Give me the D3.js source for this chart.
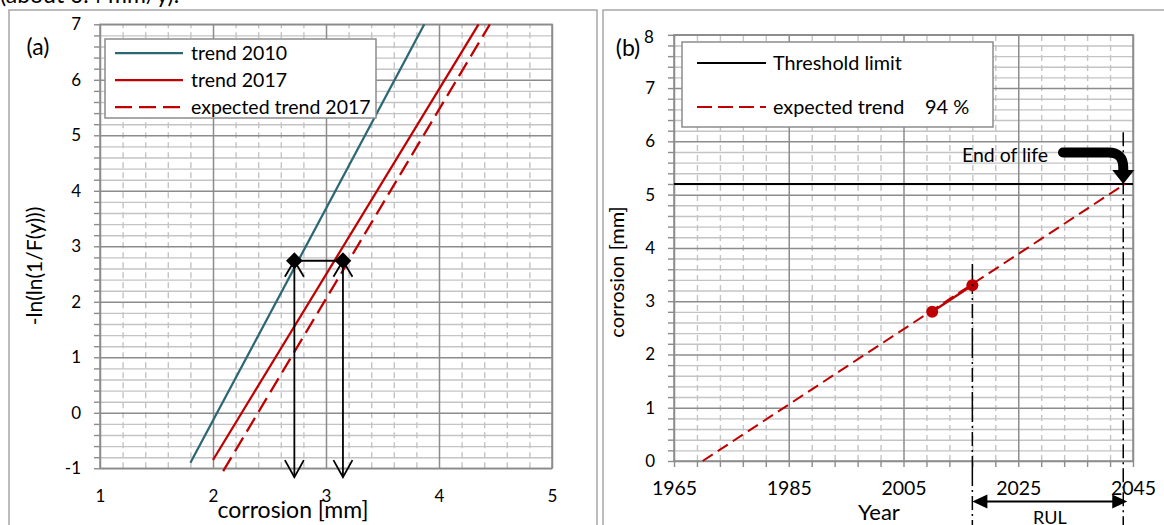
<!DOCTYPE html>
<html><head><meta charset="utf-8">
<script src="https://cdn.jsdelivr.net/npm/d3@7"></script>
<style>
body{margin:0;background:#fff;overflow:hidden;}
svg{display:block;font-family:Lato,'Open Sans',sans-serif;}
</style></head><body>
<svg id="c" width="1164" height="525"></svg>
<script>
// ---------- data: panel (a) ----------
const aXTicks = [1, 2, 3, 4, 5];
const aYTicks = [-1, 0, 1, 2, 3, 4, 5, 6, 7];
const trend2010 = [[1.80, -0.9], [3.87, 7]];
const trend2017 = [[2.0, -0.85], [4.35, 7]];
const expected2017 = [[2.09, -1.05], [4.45, 7]];
const quantileX = [2.72, 3.15];
const quantileY = 2.74;
const arrowFootY = -1.16;
const aLegend = ["trend 2010", "trend 2017", "expected trend 2017"];

// ---------- data: panel (b) ----------
const bXTicks = [1965, 1985, 2005, 2025, 2045];
const bYTicks = [0, 1, 2, 3, 4, 5, 6, 7, 8];
const thresholdLimit = 5.2;
const expectedTrend = [[1970, 0], [2043.6, 5.2]];
const measuredYears = [2010, 2017];
const measuredValues = [2.8, 3.3];
const inspectionYear = 2017;
const endOfLifeYear = 2043.3;
const bLegend = ["Threshold limit", "expected trend"];
const confidenceLabel = "94 %";

const svg = d3.select("#c");
const TEAL = "#2B6775", RED = "#C00000";
const MAJ = "#8c8c8c", MIN = "#c4c4c4";

// panel frames
svg.append("text").attr("x", 0).attr("y", 3).attr("font-size", 23).attr("fill", "#000").text("(about 0.4 mm/y).");
svg.append("rect").attr("x", 9).attr("y", 10).attr("width", 588).attr("height", 540)
  .attr("fill", "none").attr("stroke", "#a6a6a6").attr("stroke-width", 1.5);
svg.append("rect").attr("x", 603).attr("y", 10).attr("width", 570).attr("height", 540)
  .attr("fill", "none").attr("stroke", "#a6a6a6").attr("stroke-width", 1.5);

function grid(g, x, y, xMinor, yMinor, xMajor, yMajor) {
  const [x0, x1] = x.range(), [y0, y1] = y.range();
  const W = x1 - x0, H = y0 - y1;
  g.append("g").attr("transform", `translate(${x0},0)`)
    .call(d3.axisLeft(y).tickValues(yMinor).tickSize(-W).tickFormat(""))
    .call(s => { s.select(".domain").remove(); s.selectAll("line").attr("stroke", MIN).attr("stroke-width", 1.4); });
  g.append("g").attr("transform", `translate(0,${y0})`)
    .call(d3.axisBottom(x).tickValues(xMinor).tickSize(-H).tickFormat(""))
    .call(s => { s.select(".domain").remove(); s.selectAll("line").attr("stroke", MIN).attr("stroke-width", 1.4).attr("stroke-dasharray", "6,4"); });
  g.append("g").attr("transform", `translate(${x0},0)`)
    .call(d3.axisLeft(y).tickValues(yMajor).tickSize(-W).tickFormat(""))
    .call(s => { s.select(".domain").remove(); s.selectAll("line").attr("stroke", MAJ).attr("stroke-width", 1.5); });
  g.append("g").attr("transform", `translate(0,${y0})`)
    .call(d3.axisBottom(x).tickValues(xMajor).tickSize(-H).tickFormat(""))
    .call(s => { s.select(".domain").remove(); s.selectAll("line").attr("stroke", MAJ).attr("stroke-width", 1.5); });
  g.append("rect").attr("x", x0).attr("y", y1).attr("width", W).attr("height", H)
    .attr("fill", "none").attr("stroke", MAJ).attr("stroke-width", 1.5);
  g.append("g").attr("transform", `translate(${x0},0)`)
    .call(d3.axisLeft(y).tickValues(yMinor.concat(yMajor)).tickSize(6).tickFormat(""))
    .call(s => { s.select(".domain").remove(); s.selectAll("line").attr("stroke", MAJ).attr("stroke-width", 1.4); });
}
function labels(g, x, y, xt, yt, fsx, fsy, padX, padY) {
  const [x0] = x.range(), [y0] = y.range();
  g.append("g").attr("transform", `translate(${x0},0)`)
    .call(d3.axisLeft(y).tickValues(yt).tickSize(0).tickPadding(padY).tickFormat(d => String(d)))
    .call(s => { s.select(".domain").remove(); s.selectAll("text").attr("font-size", fsy).attr("fill", "#000").attr("font-family", "Lato"); });
  g.append("g").attr("transform", `translate(0,${y0})`)
    .call(d3.axisBottom(x).tickValues(xt).tickSize(0).tickPadding(padX).tickFormat(d => String(d)))
    .call(s => { s.select(".domain").remove(); s.selectAll("text").attr("font-size", fsx).attr("fill", "#000").attr("font-family", "Lato"); });
}
const r = (a, b, s) => d3.range(a, b + s / 2, s).map(v => +v.toFixed(4));

// ================= panel (a) =================
const xa = d3.scaleLinear([1, 5], [100, 552]);
const ya = d3.scaleLinear([-1, 7], [468.3, 24.3]);
const ga = svg.append("g");
grid(ga, xa, ya, r(1, 5, 0.2).filter(v => v % 1 !== 0), r(-1, 7, 0.2).filter(v => Math.abs(v % 1) > 1e-6), aXTicks, aYTicks);
labels(ga, xa, ya, aXTicks, aYTicks, 17, 17, 22, 19);

const la = d3.line().x(d => xa(d[0])).y(d => ya(d[1]));
ga.append("path").attr("d", la(trend2010)).attr("stroke", TEAL).attr("stroke-width", 2.25).attr("fill", "none");
ga.append("path").attr("d", la(trend2017)).attr("stroke", RED).attr("stroke-width", 2.25).attr("fill", "none");
ga.append("path").attr("d", la(expected2017)).attr("stroke", RED).attr("stroke-width", 2.25).attr("fill", "none").attr("stroke-dasharray", "16,7");

// quantile arrows
ga.append("path").attr("d", la(quantileX.map(v => [v, quantileY]))).attr("stroke", "#000").attr("stroke-width", 1.8).attr("fill", "none");
quantileX.forEach(v => {
  const X = xa(v), Yt = ya(quantileY), Yb = ya(arrowFootY);
  ga.append("line").attr("x1", X).attr("x2", X).attr("y1", Yt).attr("y2", Yb).attr("stroke", "#000").attr("stroke-width", 1.8);
  ga.append("polyline").attr("points", `${X - 9.5},${Yb - 17} ${X},${Yb} ${X + 9.5},${Yb - 17}`).attr("stroke", "#000").attr("stroke-width", 1.8).attr("fill", "none");
  ga.append("polyline").attr("points", `${X - 9.5},${Yt + 16} ${X},${Yt} ${X + 9.5},${Yt + 16}`).attr("stroke", "#000").attr("stroke-width", 1.8).attr("fill", "none");
  ga.append("path").attr("d", d3.symbol(d3.symbolSquare, 140)()).attr("transform", `translate(${X},${Yt}) rotate(45)`).attr("fill", "#000");
});

// legend (a)
ga.append("rect").attr("x", 105).attr("y", 39).attr("width", 271).attr("height", 79).attr("fill", "#fff").attr("stroke", "#8c8c8c").attr("stroke-width", 1.5);
const aStyles = [[TEAL, null], [RED, null], [RED, "17,7"]];
aLegend.forEach((t, i) => {
  const yy = 53 + i * 27;
  ga.append("line").attr("x1", 115).attr("x2", 183).attr("y1", yy).attr("y2", yy).attr("stroke", aStyles[i][0]).attr("stroke-width", 2.25).attr("stroke-dasharray", aStyles[i][1]);
  ga.append("text").attr("x", 191).attr("y", yy + 7).attr("font-size", 19.5).text(t);
});
ga.append("text").attr("x", 38).attr("y", 55).attr("font-size", 23).attr("text-anchor", "middle").text("(a)");
ga.append("text").attr("transform", "translate(42,266) rotate(-90)").attr("font-size", 21).attr("text-anchor", "middle").text("-ln(ln(1/F(y)))");
ga.append("text").attr("x", 293).attr("y", 518).attr("font-size", 23).attr("text-anchor", "middle").text("corrosion [mm]");

// ================= panel (b) =================
const xb = d3.scaleLinear([1965, 2045], [674, 1133]);
const yb = d3.scaleLinear([0, 8], [461, 34.8]);
const gb = svg.append("g");
grid(gb, xb, yb, r(1965, 2045, 4).filter(v => (v - 1965) % 20 !== 0), r(0, 8, 0.2).filter(v => Math.abs(v % 1) > 1e-6), bXTicks, bYTicks);
gb.append("g").attr("transform", `translate(0,${yb(0)})`)
  .call(d3.axisBottom(xb).tickValues(r(1965, 2045, 4)).tickSize(6).tickFormat(""))
  .call(s => { s.select(".domain").remove(); s.selectAll("line").attr("stroke", MAJ).attr("stroke-width", 1.4); });
labels(gb, xb, yb, bXTicks, bYTicks.filter(v => v !== 8), 19.5, 17, 20, 19);
gb.append("text").attr("x", 649).attr("y", 43).attr("font-size", 17).attr("text-anchor", "middle").text("8");

const lb = d3.line().x(d => xb(d[0])).y(d => yb(d[1]));
gb.append("path").attr("d", lb([[1965, thresholdLimit], [2045, thresholdLimit]])).attr("stroke", "#000").attr("stroke-width", 2).attr("fill", "none");
gb.append("line").attr("x1", xb(inspectionYear)).attr("x2", xb(inspectionYear)).attr("y1", yb(3.7)).attr("y2", yb(-1.3))
  .attr("stroke", "#000").attr("stroke-width", 1.5).attr("stroke-dasharray", "30,4,2,4,14,4,2,4");
gb.append("line").attr("x1", xb(endOfLifeYear)).attr("x2", xb(endOfLifeYear)).attr("y1", yb(6.17)).attr("y2", yb(-1.3))
  .attr("stroke", "#000").attr("stroke-width", 1.5).attr("stroke-dasharray", "14,4,2,4");
gb.append("path").attr("d", lb(expectedTrend)).attr("stroke", RED).attr("stroke-width", 2).attr("fill", "none").attr("stroke-dasharray", "12,6");
const meas = measuredYears.map((y, i) => [y, measuredValues[i]]);
gb.append("path").attr("d", lb(meas)).attr("stroke", RED).attr("stroke-width", 2.5).attr("fill", "none");
gb.selectAll("circle.m").data(meas).join("circle").attr("cx", d => xb(d[0])).attr("cy", d => yb(d[1])).attr("r", 6).attr("fill", RED);
gb.append("circle").attr("cx", xb(inspectionYear)).attr("cy", yb(3.3)).attr("r", 1).attr("fill", "#000");

// End of life arrow
{
  const x0 = xb(2032.8), yA = yb(5.79), xc = xb(endOfLifeYear), tip = yb(thresholdLimit);
  gb.append("path").attr("d", `M${x0},${yA} L${xc - 15},${yA} Q${xc},${yA} ${xc},${yA + 15} L${xc},${tip - 12}`)
    .attr("stroke", "#000").attr("stroke-width", 10).attr("fill", "none").attr("stroke-linecap", "round");
  gb.append("path").attr("d", `M${xc - 11},${tip - 14} L${xc + 11},${tip - 14} L${xc},${tip} Z`).attr("fill", "#000");
  gb.append("text").attr("x", xb(2030.2)).attr("y", yb(5.74) + 7).attr("font-size", 19.5).attr("text-anchor", "end").text("End of life");
}
// RUL arrow
{
  const yy = yb(-0.76), xl = xb(inspectionYear), xr = xb(endOfLifeYear) + 4;
  gb.append("line").attr("x1", xl + 10).attr("x2", xr - 10).attr("y1", yy).attr("y2", yy).attr("stroke", "#000").attr("stroke-width", 2);
  gb.append("path").attr("d", `M${xl},${yy} L${xl + 15},${yy - 7} L${xl + 15},${yy + 7} Z`).attr("fill", "#000");
  gb.append("path").attr("d", `M${xr},${yy} L${xr - 15},${yy - 7} L${xr - 15},${yy + 7} Z`).attr("fill", "#000");
  gb.append("text").attr("x", xb(2030.5)).attr("y", 524).attr("font-size", 18).attr("text-anchor", "middle").text("RUL");
}

// legend (b)
gb.append("rect").attr("x", 682).attr("y", 42).attr("width", 311).attr("height", 85).attr("fill", "#fff").attr("stroke", "#8c8c8c").attr("stroke-width", 1.5);
gb.append("line").attr("x1", 697).attr("x2", 766).attr("y1", 63).attr("y2", 63).attr("stroke", "#000").attr("stroke-width", 2);
gb.append("line").attr("x1", 697).attr("x2", 766).attr("y1", 107).attr("y2", 107).attr("stroke", RED).attr("stroke-width", 2).attr("stroke-dasharray", "15,6");
gb.append("text").attr("x", 773).attr("y", 70).attr("font-size", 19.8).text(bLegend[0]);
gb.append("text").attr("x", 773).attr("y", 114).attr("font-size", 19.8).text(bLegend[1]);
gb.append("text").attr("x", 925).attr("y", 114).attr("font-size", 20).text(confidenceLabel);

gb.append("text").attr("x", 628).attr("y", 56).attr("font-size", 23).attr("text-anchor", "middle").text("(b)");
gb.append("text").attr("transform", "translate(624,272) rotate(-90)").attr("font-size", 20).attr("text-anchor", "middle").text("corrosion [mm]");
gb.append("text").attr("x", 858).attr("y", 520).attr("font-size", 22).text("Year");
</script></body></html>
